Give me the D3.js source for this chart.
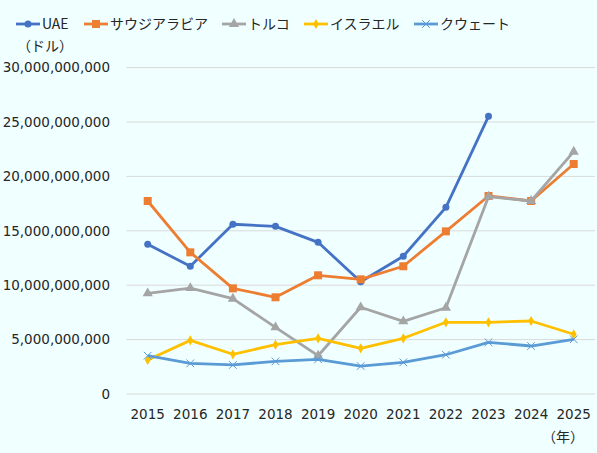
<!DOCTYPE html>
<html>
<head>
<meta charset="utf-8">
<script src="https://cdn.jsdelivr.net/npm/d3@7"></script>
<style>
  body { margin: 0; background: #f0ffff; }
  svg { display: block; font-family: "Noto Sans CJK JP", "Noto Sans", sans-serif; }
  .num { font-family: "DejaVu Sans", sans-serif; }
</style>
</head>
<body>
<div id="chart"></div>
<script>
const width = 597,
    height = 453;

// data (USD)
const years = ["2015", "2016", "2017", "2018", "2019", "2020", "2021", "2022", "2023", "2024", "2025"];
const uae = [13.76e9, 11.74e9, 15.6e9, 15.41e9, 13.94e9, 10.32e9, 12.66e9, 17.16e9, 25.52e9, null, null];
const saudi = [17.74e9, 13.02e9, 9.71e9, 8.89e9, 10.91e9, 10.54e9, 11.74e9, 14.95e9, 18.2e9, 17.74e9, 21.14e9];
const turkey = [9.25e9, 9.74e9, 8.76e9, 6.13e9, 3.52e9, 7.97e9, 6.68e9, 7.93e9, 18.14e9, 17.74e9, 22.27e9];
const israel = [3.13e9, 4.93e9, 3.65e9, 4.53e9, 5.12e9, 4.2e9, 5.12e9, 6.59e9, 6.59e9, 6.71e9, 5.49e9];
const kuwait = [3.52e9, 2.82e9, 2.67e9, 3.0e9, 3.19e9, 2.57e9, 2.91e9, 3.61e9, 4.75e9, 4.41e9, 5.03e9];
const seriesNames = ["UAE", "サウジアラビア", "トルコ", "イスラエル", "クウェート"];
const yTicks = [0, 5e9, 10e9, 15e9, 20e9, 25e9, 30e9];

const series = [
    { name: seriesNames[0], values: uae, color: "#4472c4", marker: "circle" },
    { name: seriesNames[1], values: saudi, color: "#ed7d31", marker: "square" },
    { name: seriesNames[2], values: turkey, color: "#a5a5a5", marker: "triangle" },
    { name: seriesNames[3], values: israel, color: "#ffc000", marker: "diamond" },
    { name: seriesNames[4], values: kuwait, color: "#5b9bd5", marker: "cross" }
];

const margin = { top: 67.6, right: 2, bottom: 59, left: 126.4 };

const svg = d3.select("#chart")
    .append("svg")
    .attr("width", width)
    .attr("height", height);

svg.append("rect")
    .attr("width", width)
    .attr("height", height)
    .attr("fill", "#f0ffff");

const x = d3.scaleBand()
    .domain(years)
    .range([margin.left, width - margin.right]);

const y = d3.scaleLinear()
    .domain([0, 30e9])
    .range([height - margin.bottom, margin.top]);

// gridlines
svg.append("g")
    .selectAll("line")
    .data(yTicks)
    .join("line")
    .attr("x1", margin.left)
    .attr("x2", width - margin.right)
    .attr("y1", d => y(d))
    .attr("y2", d => y(d))
    .attr("stroke", "#d9d9d9")
    .attr("stroke-width", 1);

// y labels
svg.append("g")
    .selectAll("text")
    .data(yTicks)
    .join("text")
    .attr("class", "num")
    .attr("x", 110)
    .attr("y", d => y(d))
    .attr("dy", "0.35em")
    .attr("text-anchor", "end")
    .attr("font-size", 13.5)
    .attr("fill", "#262626")
    .text(d => d3.format(",")(d));

// x labels
svg.append("g")
    .selectAll("text")
    .data(years)
    .join("text")
    .attr("class", "num")
    .attr("x", d => x(d) + x.bandwidth() / 2)
    .attr("y", 414)
    .attr("dy", "0.35em")
    .attr("text-anchor", "middle")
    .attr("font-size", 13.5)
    .attr("fill", "#262626")
    .text(d => d);

svg.append("text")
    .attr("x", 563)
    .attr("y", 437)
    .attr("dy", "0.35em")
    .attr("text-anchor", "middle")
    .attr("font-size", 14)
    .attr("fill", "#262626")
    .text("（年）");

svg.append("text")
    .attr("x", 45)
    .attr("y", 46)
    .attr("dy", "0.35em")
    .attr("text-anchor", "middle")
    .attr("font-size", 14)
    .attr("fill", "#262626")
    .text("（ドル）");

function drawMarker(g, type, color, cx, cy) {
    if (type === "circle") {
        g.append("circle").attr("cx", cx).attr("cy", cy).attr("r", 3.5).attr("fill", color);
    } else if (type === "square") {
        g.append("rect").attr("x", cx - 4).attr("y", cy - 4).attr("width", 8).attr("height", 8).attr("fill", color);
    } else if (type === "triangle") {
        g.append("path").attr("d", d3.symbol(d3.symbolTriangle, 45)()).attr("transform", `translate(${cx},${cy})`).attr("fill", color);
    } else if (type === "diamond") {
        g.append("path").attr("d", d3.symbol(d3.symbolDiamond, 30)()).attr("transform", `translate(${cx},${cy})`).attr("fill", color);
    } else if (type === "cross") {
        g.append("path").attr("d", d3.symbol(d3.symbolX, 40)()).attr("transform", `translate(${cx},${cy})`)
            .attr("fill", "none").attr("stroke", color).attr("stroke-width", 1);
    }
}

const line = d3.line()
    .defined(d => d[1] != null)
    .x(d => x(d[0]) + x.bandwidth() / 2)
    .y(d => y(d[1]));

series.forEach(s => {
    const pts = years.map((yr, i) => [yr, s.values[i]]);
    const g = svg.append("g");
    g.append("path")
        .datum(pts)
        .attr("fill", "none")
        .attr("stroke", s.color)
        .attr("stroke-width", 2.8)
        .attr("stroke-linejoin", "round")
        .attr("d", line);
    pts.filter(d => d[1] != null).forEach(d => {
        drawMarker(g, s.marker, s.color, x(d[0]) + x.bandwidth() / 2, y(d[1]));
    });
});

// legend
const legendX = [16, 84, 222, 304, 414];
series.forEach((s, i) => {
    const g = svg.append("g").attr("transform", `translate(${legendX[i]},24)`);
    g.append("line")
        .attr("x1", 0).attr("x2", 24)
        .attr("y1", 0).attr("y2", 0)
        .attr("stroke", s.color)
        .attr("stroke-width", 2.8);
    drawMarker(g, s.marker, s.color, 12, 0);
    g.append("text")
        .attr("x", 26)
        .attr("y", 0)
        .attr("dy", "0.35em")
        .attr("font-size", 14)
        .attr("fill", "#262626")
        .text(s.name);
});
</script>
</body>
</html>
